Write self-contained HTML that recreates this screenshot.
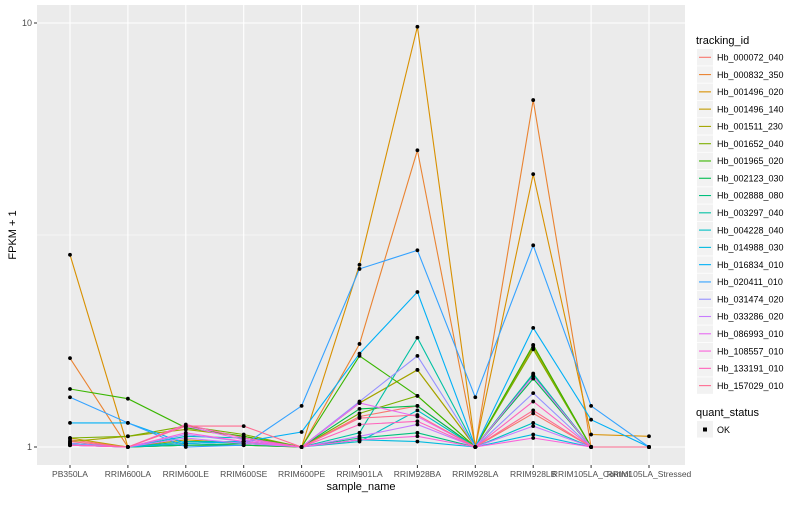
<!DOCTYPE html>
<html><head><meta charset="utf-8"><style>
body{margin:0;background:#fff;font-family:"Liberation Sans",sans-serif}
svg text{font-family:"Liberation Sans",sans-serif}
</style></head><body>
<svg id="chart" width="800" height="500" xmlns="http://www.w3.org/2000/svg">
<rect x="0" y="0" width="800" height="500" fill="#fff"/>
<rect x="37" y="5" width="648" height="460" fill="#EBEBEB"/>
<g id="grid"></g><g id="lines"></g><g id="points"></g><g id="axes"></g><g id="legend"></g>
<text x="361" y="490" font-size="11" text-anchor="middle">sample_name</text>
<text transform="translate(16,235) rotate(-90)" font-size="11" text-anchor="middle">FPKM + 1</text>
</svg>
<script>
const categories=["PB350LA","RRIM600LA","RRIM600LE","RRIM600SE","RRIM600PE","RRIM901LA","RRIM928BA","RRIM928LA","RRIM928LB","RRIM105LA_Control","RRIM105LA_Stressed"];
const seriesNames=["Hb_000072_040","Hb_000832_350","Hb_001496_020","Hb_001496_140","Hb_001511_230","Hb_001652_040","Hb_001965_020","Hb_002123_030","Hb_002888_080","Hb_003297_040","Hb_004228_040","Hb_014988_030","Hb_016834_010","Hb_020411_010","Hb_031474_020","Hb_033286_020","Hb_086993_010","Hb_108557_010","Hb_133191_010","Hb_157029_010"];
const colors=["#F8766D","#EA8331","#D89000","#C09B00","#A3A500","#7CAE00","#39B600","#00BB4E","#00BF7D","#00C1A3","#00BFC4","#00BAE0","#00B0F6","#35A2FF","#9590FF","#C77CFF","#E76BF3","#FA62DB","#FF62BC","#FF6C91"];
const s01=[1.04,1,1.02,1.03,1,1.18,1.25,1,1.20,1,1];
const s02=[1.62,1,1.02,1.03,1,1.75,5.01,1,6.58,1,1];
const s03=[2.84,1,1.01,1.01,1,2.69,9.8,1,4.4,1.07,1.06];
const s04=[1.05,1,1.04,1.02,1,1.27,1.52,1,1.72,1,1];
const s05=[1.03,1.06,1.1,1.06,1,1.27,1.52,1,1.74,1,1];
const s06=[1.05,1.06,1.12,1.07,1,1.20,1.32,1,1.70,1,1];
const s07=[1.37,1.30,1.11,1.06,1,1.64,1.32,1,1.74,1,1];
const s08=[1.02,1,1.01,1.01,1,1.23,1.25,1,1.45,1,1];
const s09=[1.01,1,1.01,1.02,1,1.05,1.08,1,1.48,1,1];
const s10=[1.02,1,1.03,1.03,1,1.08,1.81,1,1.49,1,1];
const s11=[1.02,1,1.06,1.05,1,1.03,1.22,1,1.14,1,1];
const s12=[1.01,1,1.02,1.03,1,1.04,1.03,1,1.07,1,1];
const s13=[1.14,1.14,1.02,1.03,1.085,1.66,2.32,1,1.91,1.16,1];
const s14=[1.31,1.14,1.0,1.01,1.25,2.63,2.91,1.31,2.99,1.25,1];
const s15=[1.02,1,1.07,1.03,1,1.28,1.64,1,1.34,1,1];
const s16=[1.01,1,1.05,1.02,1,1.06,1.13,1,1.12,1,1];
const s17=[1.01,1,1.12,1.04,1,1.27,1.18,1,1.47,1,1];
const s18=[1.01,1,1.08,1.03,1,1.04,1.06,1,1.05,1,1];
const s19=[1.01,1,1.13,1.05,1,1.13,1.15,1,1.28,1,1];
const s20=[1.03,1,1.12,1.12,1,1.17,1.19,1,1.22,1,1];
const allSeries=[s01,s02,s03,s04,s05,s06,s07,s08,s09,s10,s11,s12,s13,s14,s15,s16,s17,s18,s19,s20];
const yTicks=[1,10];
const yTickLabels=["1","10"];

const NS="http://www.w3.org/2000/svg";
function el(t,a,p){const e=document.createElementNS(NS,t);for(const k in a)e.setAttribute(k,a[k]);p.appendChild(e);return e;}
const xScale=i=>70+i*57.9;
const yScale=v=>447-424*Math.log10(v);
const grid=document.getElementById('grid'),lines=document.getElementById('lines'),pts=document.getElementById('points'),axes=document.getElementById('axes'),leg=document.getElementById('legend');
[Math.sqrt(10)].forEach(v=>{const g=el('line',{x1:37,x2:685,y1:yScale(v),y2:yScale(v),stroke:'#fff','stroke-width':0.5},grid);
});
yTicks.forEach((v,i)=>{const g=el('line',{x1:37,x2:685,y1:yScale(v),y2:yScale(v),stroke:'#fff','stroke-width':1.1},grid);

const tk=el('line',{x1:34,x2:37,y1:yScale(v),y2:yScale(v),stroke:'#333'},axes);

const t=el('text',{x:32,y:yScale(v)+3,'font-size':9,'text-anchor':'end',fill:'#4d4d4d'},axes);t.textContent=yTickLabels[i];
});
categories.forEach((c,i)=>{const x=xScale(i);
const g=el('line',{x1:x,x2:x,y1:5,y2:465,stroke:'#fff','stroke-width':1.1},grid);

const tk=el('line',{x1:x,x2:x,y1:465,y2:468,stroke:'#333'},axes);

const t=el('text',{x:x,y:477,'font-size':8.5,'text-anchor':'middle',fill:'#4d4d4d'},axes);t.textContent=c;
});
allSeries.forEach((s,k)=>{
const d=s.map((v,i)=>(i?'L':'M')+xScale(i).toFixed(1)+','+yScale(v).toFixed(1)).join(' ');
const p=el('path',{d:d,fill:'none',stroke:colors[k],'stroke-width':1.1},lines);


s.forEach((v,i)=>{const c=el('circle',{cx:xScale(i),cy:yScale(v),r:1.9,fill:'#000'},pts);

});
});
const lt=el('text',{x:696,y:44,'font-size':11},leg);lt.textContent='tracking_id';

seriesNames.forEach((n,k)=>{const y=49+k*17.28;
const g=el('g',{},leg);


el('rect',{x:697,y:y,width:16,height:16.5,fill:'#F2F2F2'},g);
el('line',{x1:699,x2:711,y1:y+8.3,y2:y+8.3,stroke:colors[k],'stroke-width':1.1},g);
const t=el('text',{x:717,y:y+11.5,'font-size':9},g);t.textContent=n;});
const qt=el('text',{x:696,y:416,'font-size':11},leg);qt.textContent='quant_status';

const qg=el('g',{},leg);


el('rect',{x:697,y:421,width:16,height:16.5,fill:'#F2F2F2'},qg);
el('rect',{x:703,y:427.5,width:4,height:4,fill:'#000'},qg);
const ok=el('text',{x:717,y:433,'font-size':9},qg);ok.textContent='OK';
</script>
</body></html>
